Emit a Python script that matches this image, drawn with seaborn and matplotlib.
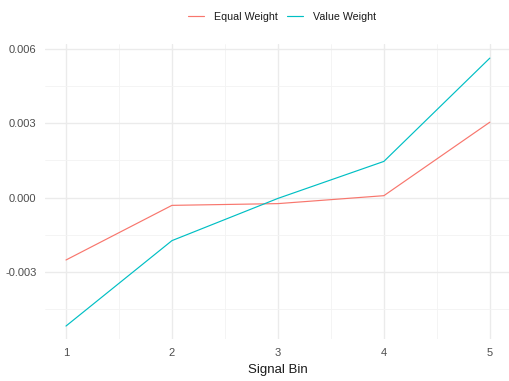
import pandas as pd
import numpy as np
import matplotlib
matplotlib.use('Agg')
import matplotlib.pyplot as plt
import seaborn as sns

BINS = [1, 2, 3, 4, 5]
EQUAL_WEIGHT = [-0.00251, -0.00031, -0.00024, 0.00008, 0.00304]
VALUE_WEIGHT = [-0.00517, -0.00173, -0.00003, 0.00146, 0.00562]
SERIES = ['Equal Weight', 'Value Weight']
COLORS = ['#F8766D', '#00BFC4']
YTICKS = [-0.003, 0.000, 0.003, 0.006]

df = pd.DataFrame({
    'bin': BINS * 2,
    'ret': EQUAL_WEIGHT + VALUE_WEIGHT,
    'weighting': [SERIES[0]] * len(BINS) + [SERIES[1]] * len(BINS),
})

sns.set_theme(style='white')
plt.rcParams['font.family'] = ['Liberation Sans', 'DejaVu Sans']

fig = plt.figure(figsize=(5.09, 3.81), dpi=100)
ax = fig.add_axes([0.088, 0.1097, 0.916, 0.7756])

sns.lineplot(data=df, x='bin', y='ret', hue='weighting', hue_order=SERIES,
             palette=COLORS, linewidth=0.85, ax=ax, legend=False)

ax.set_xlim(0.8, 5.2)
ax.set_ylim(-0.0057, 0.0062)
ax.set_xticks(BINS)
ax.set_xticklabels([str(b) for b in BINS])
ax.set_yticks(YTICKS)
ax.set_yticklabels(['%.3f' % v for v in YTICKS])
ax.set_xticks([1.5, 2.5, 3.5, 4.5], minor=True)
ax.set_yticks([-0.0045, -0.0015, 0.0015, 0.0045], minor=True)

ax.grid(which='major', color='#EBEBEB', linewidth=1.0)
ax.grid(which='minor', color='#F3F3F3', linewidth=0.6)
ax.set_axisbelow(True)
for s in ax.spines.values():
    s.set_visible(False)
ax.tick_params(which='both', length=0, labelsize=8, labelcolor='#4D4D4D', pad=6)

ax.set_xlabel('Signal Bin', fontsize=9.5, color='#1A1A1A', labelpad=5)
ax.set_ylabel('')

handles = [plt.Line2D([], [], color=c, linewidth=0.85) for c in COLORS]
fig.legend(handles, SERIES, loc='center', bbox_to_anchor=(0.554, 0.955), ncol=2,
           frameon=False, fontsize=7.7, handlelength=1.5, columnspacing=0.9,
           handletextpad=0.9, labelcolor='#1A1A1A')

fig.savefig('out.png', dpi=100)
